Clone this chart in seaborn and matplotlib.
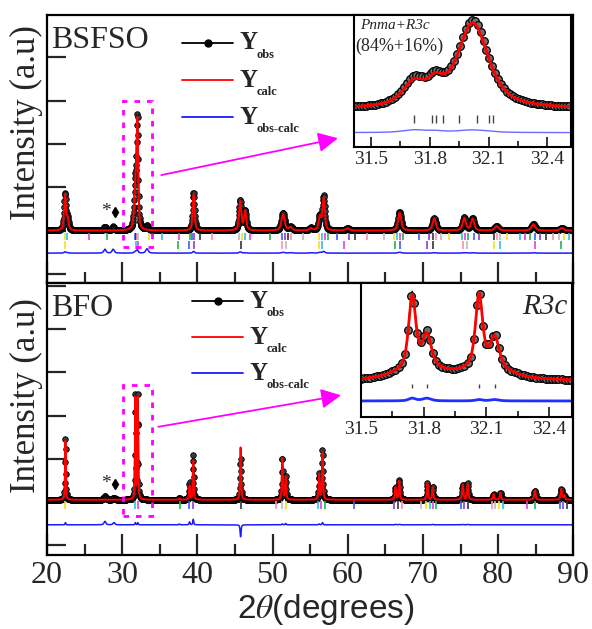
import numpy as np
import matplotlib
matplotlib.use("Agg")
import matplotlib.pyplot as plt
import seaborn as sns
from matplotlib.ticker import MultipleLocator
from matplotlib.patches import Rectangle

#### Data ####

# BSFSO main pattern: peak positions (2theta), heights above background for obs / calc, widths
bsfso_pos  = [22.4, 22.75, 27.7, 28.8, 31.75, 32.02, 33.3, 39.5, 45.7, 46.35, 51.4, 52.4, 55.1, 56.3, 56.8, 60.0, 66.9, 71.5, 75.5, 76.6, 79.8, 84.7, 88.5]
bsfso_obs  = [0.85, 0.25, 0.09, 0.09, 1.00, 2.45, 0.10, 0.87, 0.70, 0.45, 0.40, 0.08, 0.06, 0.33, 0.78, 0.05, 0.43, 0.29, 0.30, 0.28, 0.10, 0.15, 0.06]
bsfso_calc = [0.82, 0.24, 0.00, 0.00, 0.96, 2.38, 0.00, 0.83, 0.67, 0.44, 0.38, 0.07, 0.05, 0.31, 0.74, 0.05, 0.41, 0.28, 0.29, 0.27, 0.10, 0.14, 0.06]
bsfso_fwhm = [0.30, 0.30, 0.35, 0.35, 0.35, 0.25, 0.40, 0.30, 0.35, 0.35, 0.50, 0.50, 0.50, 0.40, 0.35, 0.60, 0.50, 0.50, 0.50, 0.50, 0.60, 0.60, 0.60]
bsfso_bg, bsfso_diff0 = 1.0, 0.48

# BFO main pattern
bfo_pos  = [22.45, 27.7, 28.9, 31.75, 32.08, 37.6, 38.95, 39.45, 45.75, 51.3, 51.75, 56.2, 56.65, 66.35, 66.85, 70.6, 71.3, 75.3, 75.95, 79.4, 80.3, 84.9, 88.4, 88.8]
bfo_obs  = [1.45, 0.08, 0.05, 2.45, 2.40, 0.05, 0.40, 1.05, 0.95, 0.98, 0.55, 0.60, 1.15, 0.30, 0.45, 0.38, 0.30, 0.35, 0.38, 0.13, 0.17, 0.22, 0.25, 0.10]
bfo_calc = [1.40, 0.00, 0.00, 2.40, 2.35, 0.03, 0.33, 0.92, 1.23, 0.96, 0.52, 0.58, 1.10, 0.29, 0.44, 0.38, 0.29, 0.34, 0.37, 0.13, 0.17, 0.22, 0.25, 0.10]
bfo_fwhm = [0.12, 0.30, 0.30, 0.12, 0.12, 0.15, 0.14, 0.14, 0.15, 0.16, 0.16, 0.16, 0.16, 0.18, 0.18, 0.18, 0.18, 0.20, 0.20, 0.20, 0.20, 0.22, 0.22, 0.22]
bfo_bg, bfo_diff0 = 1.05, 0.47

# Bragg reflection markers
bsfso_pnma = [22.4, 22.6, 25.6, 28.0, 31.7, 31.8, 31.9, 32.0, 32.1, 33.6, 35.3, 37.5, 39.0, 39.3, 39.6, 40.3, 42.0, 45.6,
              46.0, 46.3, 47.0, 49.7, 51.2, 51.6, 52.0, 52.4, 54.0, 56.2, 56.6, 57.0, 57.4, 58.6, 60.2, 61.0, 62.5, 64.8,
              66.2, 66.6, 67.0, 67.4, 69.5, 70.8, 71.3, 71.8, 72.4, 73.5, 75.2, 75.6, 76.0, 76.8, 77.4, 79.4, 79.9, 80.3,
              81.2, 82.9, 83.6, 84.3, 84.9, 85.6, 86.4, 87.3, 88.1, 88.7, 89.4]
bsfso_r3c = [22.4, 31.8, 32.1, 37.4, 38.9, 39.5, 45.8, 51.3, 51.8, 56.2, 56.6, 59.5, 66.3, 66.9, 70.6, 71.3, 75.3, 75.9, 79.4, 80.3, 84.9, 88.4]
bfo_r3c = [22.45, 31.75, 32.08, 37.7, 38.9, 39.4, 45.75, 50.5, 51.3, 51.75, 56.0, 56.4, 57.0, 60.8, 66.2, 66.7, 67.2, 69.8,
           70.4, 70.9, 71.3, 71.8, 75.0, 75.4, 76.0, 79.2, 79.6, 80.1, 80.6, 83.8, 84.9, 88.2, 88.6, 89.2]
bragg_colors = ["#f2e21c", "#21c4e6", "#e23fe0", "#2ab24a", "#3b5bff", "#8a3fc4", "#333333", "#ff8fb0", "#bbbbbb"]

# Insets around the (104)/(110) doublet
in1_pos  = [31.72, 31.83, 32.02]
in1_obs  = [0.19, 0.14, 0.66]
in1_calc = [0.17, 0.13, 0.64]
in1_fwhm = [0.14, 0.10, 0.19]
in1_bg, in1_diff0 = 0.29, 0.11
in1_ticks = [31.72, 31.81, 31.83, 31.87, 31.95, 32.04, 32.10, 32.12]

in2_pos  = [31.745, 31.815, 32.065, 32.14, 31.78, 32.10]
in2_obs  = [0.55, 0.25, 0.55, 0.23, 0.10, 0.10]
in2_calc = [0.53, 0.23, 0.54, 0.22, 0.10, 0.10]
in2_fwhm = [0.04, 0.05, 0.04, 0.05, 0.25, 0.25]
in2_bg, in2_diff0 = 0.27, 0.12
in2_ticks = [31.745, 31.815, 32.065, 32.14]


def pattern(x, pos, heights, fwhm, bg, eta=0.6):
    y = np.full_like(x, bg)
    for p, h, w in zip(pos, heights, fwhm):
        d2 = 4 * (x - p) ** 2 / w ** 2
        y += h * (eta / (1 + d2) + (1 - eta) * np.exp(-np.log(2) * d2))
    return y


#### Style ####
SERIF = "Liberation Serif"
sns.set_theme(style="ticks")
plt.rcParams["font.family"] = [SERIF, "DejaVu Serif"]
plt.rcParams["mathtext.fontset"] = "stix"

fig = plt.figure(figsize=(5.92, 6.29), dpi=100)
ax_top = fig.add_axes([0.0794, 0.550, 0.889, 0.426])
ax_bot = fig.add_axes([0.0794, 0.1176, 0.889, 0.4324])

magenta = "#ff00ff"
x_main = np.arange(20, 90.001, 0.02)


def draw_main(ax, name, pos, obs, calc, fwhm, bg, d0, rows, ylim, box, arrow, legx, legy):
    y_obs = pattern(x_main, pos, obs, fwhm, bg)
    y_calc = pattern(x_main, pos, calc, fwhm, bg)
    y_diff = d0 + (y_obs - y_calc)

    sns.lineplot(x=x_main, y=y_obs, ax=ax, color="black", lw=1.2, estimator=None, sort=False,
                 marker="o", markevery=2, markersize=4, markerfacecolor="#3a3a3a",
                 markeredgecolor="black", markeredgewidth=0.6)
    sns.lineplot(x=x_main, y=y_calc, ax=ax, color="#ff0000", lw=1.4, estimator=None, sort=False)
    sns.lineplot(x=x_main, y=y_diff, ax=ax, color="#1a1aff", lw=1.1, estimator=None, sort=False)

    for refl, (y0, y1) in rows:
        cols = [bragg_colors[i % len(bragg_colors)] for i in range(len(refl))]
        ax.vlines(refl, y0, y1, colors=cols, lw=1.2)

    ax.set_xlim(20, 90)
    ax.set_ylim(*ylim)
    ax.set_xlabel("")
    ax.set_ylabel("Intensity (a.u)", fontsize=25, fontfamily=SERIF)
    ax.xaxis.set_major_locator(MultipleLocator(10))
    ax.xaxis.set_minor_locator(MultipleLocator(5))
    ax.yaxis.set_major_locator(MultipleLocator(1))
    ax.set_yticklabels([])
    ax.tick_params(axis="x", which="major", direction="in", length=15, width=1.6, labelsize=23, pad=4,
                   labelfontfamily=SERIF)
    ax.tick_params(axis="x", which="minor", direction="in", length=8, width=1.6)
    ax.tick_params(axis="y", which="major", direction="in", length=14, width=1.6)
    for s in ax.spines.values():
        s.set_linewidth(1.6)
        s.set_color("black")

    ax.text(0.008, ylim[1] - 0.25, name, fontsize=23, va="top", ha="left", fontfamily=SERIF,
            transform=ax.get_yaxis_transform())

    ax.add_patch(Rectangle((box[0], box[2]), box[1] - box[0], box[3] - box[2], fill=False,
                           edgecolor=magenta, lw=2, ls=(0, (2, 2.5)), zorder=5))
    ax.annotate("", xy=arrow[1], xytext=arrow[0],
                arrowprops=dict(arrowstyle="-|>", color=magenta, lw=1.3, mutation_scale=30,
                                shrinkA=0, shrinkB=0))

    # legend
    handles = [("black", "obs", True), ("#ff0000", "calc", False), ("#1a1aff", "obs-calc", False)]
    for (c, sub, mk), yy in zip(handles, legy):
        ax.plot([legx, legx + 0.097], [yy, yy], color=c, lw=1.3, transform=ax.transAxes)
        if mk:
            ax.plot([legx + 0.0485], [yy], "o", color="black", markersize=5, transform=ax.transAxes)
        ax.text(legx + 0.108, yy, "Y", fontsize=18, fontweight="bold", va="center", ha="left",
                fontfamily=SERIF, transform=ax.transAxes)
        ax.text(legx + 0.142, yy - 0.045, sub, fontsize=9, fontweight="bold", va="center", ha="left",
                fontfamily=SERIF, transform=ax.transAxes)
    return ax


draw_main(ax_top, "BSFSO", bsfso_pos, bsfso_obs, bsfso_calc, bsfso_fwhm, bsfso_bg, bsfso_diff0,
          [(bsfso_pnma, (0.78, 0.95)), (bsfso_r3c, (0.58, 0.76))], (-0.21, 5.97),
          (30.1, 33.9, 0.62, 4.0), ((35.2, 2.28), (58.7, 3.13)), 0.257, [0.896, 0.757, 0.619])
draw_main(ax_bot, "BFO", bfo_pos, bfo_obs, bfo_calc, bfo_fwhm, bfo_bg, bfo_diff0,
          [(bfo_r3c, (0.84, 1.02))], (-0.23, 6.07),
          (30.1, 33.9, 0.67, 3.72), ((34.8, 2.74), (59.1, 3.47)), 0.276, [0.934, 0.801, 0.669])

ax_top.tick_params(axis="x", labelbottom=False)
ax_top.yaxis.set_label_coords(-0.008, 0.6)
ax_bot.yaxis.set_label_coords(-0.008, 0.585)

# impurity marks
for ax, yy in [(ax_top, 1.43), (ax_bot, 1.42)]:
    ax.text(27.8, yy, "*", fontsize=14, ha="center", va="center", fontfamily=SERIF)
    ax.plot([29.1], [yy], marker="d", color="black", markersize=5)

ax_bot.set_xlabel(r"2$\theta$(degrees)", fontsize=24, family="Liberation Sans")
ax_bot.xaxis.set_label_coords(0.53, -0.135)


#### Insets ####
def draw_inset(rect, lo, hi, pos, obs, calc, fwhm, bg, d0, ticks, tick_y, diff_col, diff_lw, eta):
    ax = fig.add_axes(rect)
    ax.set_facecolor("white")
    x = np.arange(lo, hi + 0.0001, 0.005)
    y_obs = pattern(x, pos, obs, fwhm, bg, eta)
    y_calc = pattern(x, pos, calc, fwhm, bg, eta)
    sns.lineplot(x=x, y=y_obs, ax=ax, color="black", lw=1.0, estimator=None, sort=False,
                 marker="o", markevery=3, markersize=5.5, markerfacecolor="#6f6f6f",
                 markeredgecolor="black", markeredgewidth=0.9)
    sns.lineplot(x=x, y=y_calc, ax=ax, color="#ff0000", lw=2, estimator=None, sort=False)
    sns.lineplot(x=x, y=d0 + (y_obs - y_calc), ax=ax, color=diff_col, lw=diff_lw, estimator=None, sort=False)
    ax.vlines(ticks, tick_y[0], tick_y[1], colors="#444444", lw=1)
    ax.set_xlim(lo, hi)
    ax.set_ylim(0, 1)
    ax.set_xlabel("")
    ax.set_ylabel("")
    ax.set_yticks([])
    ax.xaxis.set_major_locator(MultipleLocator(0.3))
    ax.xaxis.set_minor_locator(MultipleLocator(0.15))
    ax.tick_params(axis="x", which="major", direction="in", length=7, width=1.3, labelsize=14, pad=3,
                   labelfontfamily=SERIF)
    ax.tick_params(axis="x", which="minor", direction="in", length=4, width=1.3)
    for s in ax.spines.values():
        s.set_linewidth(1.5)
        s.set_color("black")
    return ax


in1 = draw_inset([0.598, 0.766, 0.3666, 0.210], 31.414, 32.52, in1_pos, in1_obs, in1_calc, in1_fwhm,
                 in1_bg, in1_diff0, in1_ticks, (0.18, 0.24), "#6b6bff", 1.0, 0.7)
in1.text(0.03, 0.92, "Pnma+R3c", fontsize=11, style="italic", va="center", ha="left",
         fontfamily=SERIF, transform=in1.transAxes)
in1.text(0.005, 0.76, "(84%+16%)", fontsize=13, va="center", ha="left", fontfamily=SERIF,
         transform=in1.transAxes)

in2 = draw_inset([0.6098, 0.337, 0.3564, 0.213], 31.5, 32.51, in2_pos, in2_obs, in2_calc, in2_fwhm,
                 in2_bg, in2_diff0, in2_ticks, (0.22, 0.25), "#1f2fff", 2.0, 0.6)
in2.text(0.976, 0.82, "R3c", fontsize=21, style="italic", va="center", ha="right", fontfamily=SERIF,
         transform=in2.transAxes)

fig.savefig("out.png", dpi=100)
